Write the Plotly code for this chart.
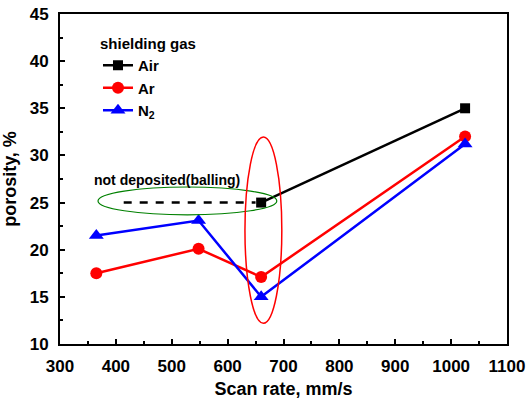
import plotly.graph_objects as go

scan_air = [660, 1025]
por_air = [25, 35]
scan_ar = [365, 548, 660, 1025]
por_ar = [17.5, 20.1, 17.1, 32]
scan_n2 = [365, 548, 660, 1025]
por_n2 = [21.5, 23.1, 15.0, 31.2]
balling_x = [414, 650]
balling_y = [25, 25]
x_ticks = list(range(300, 1101, 100))
y_ticks = list(range(10, 46, 5))

FONT = "Liberation Sans"

fig = go.Figure()
fig.add_trace(go.Scatter(x=balling_x, y=balling_y, mode="lines", showlegend=False,
                         line=dict(color="black", width=2.5, dash="8px,8px")))
fig.add_trace(go.Scatter(x=scan_air, y=por_air, mode="lines+markers", name="<b>Air</b>",
                         line=dict(color="black", width=2.5),
                         marker=dict(symbol="square", size=10, color="black")))
fig.add_trace(go.Scatter(x=scan_ar, y=por_ar, mode="lines+markers", name="<b>Ar</b>",
                         line=dict(color="#ff0000", width=2.5),
                         marker=dict(symbol="circle", size=12, color="#ff0000")))
fig.add_trace(go.Scatter(x=scan_n2, y=por_n2, mode="lines+markers", name="<b>N<sub>2</sub></b>",
                         line=dict(color="#0000ff", width=2.5),
                         marker=dict(symbol="triangle-up", size=13, color="#0000ff")))

fig.add_shape(type="circle", xref="x", yref="y", x0=368, x1=688, y0=23.7, y1=26.65,
              line=dict(color="#008000", width=1.2))
fig.add_shape(type="circle", xref="x", yref="y", x0=631, x1=697, y0=12.2, y1=31.95,
              line=dict(color="#ff0000", width=1.5))

fig.add_annotation(xref="paper", yref="paper", x=(167 - 60) / 447, y=(344 - 180) / 330,
                   xanchor="center", yanchor="middle",
                   text="<b>not deposited(balling)</b>", showarrow=False,
                   font=dict(family=FONT, size=14, color="black", weight="bold"))

fig.update_layout(
    width=528, height=407,
    margin=dict(l=60, r=21, t=14, b=63),
    paper_bgcolor="white", plot_bgcolor="white",
    font=dict(family=FONT, color="black", size=16),
    legend=dict(x=0.085, y=0.953, xanchor="left", yanchor="top",
                bgcolor="rgba(0,0,0,0)",
                title=dict(text="<b>shielding gas</b>", font=dict(size=15)),
                font=dict(size=15), tracegroupgap=0),
    xaxis=dict(range=[300, 1100], tickvals=x_ticks, ticktext=[f"<b>{v}</b>" for v in x_ticks],
               ticks="inside", ticklen=5, tickwidth=2, tickcolor="black",
               minor=dict(ticks="inside", ticklen=3, tickwidth=1.5, dtick=50, tickcolor="black"),
               showline=True, linewidth=2, linecolor="black", mirror=True, automargin=False,
               showgrid=False, zeroline=False, ticklabelstandoff=6,
               tickfont=dict(size=17, weight="bold"),
               title=dict(text="<b>Scan rate, mm/s</b>", font=dict(size=18), standoff=7)),
    yaxis=dict(range=[10, 45], tickvals=y_ticks, ticktext=[f"<b>{v}</b>" for v in y_ticks],
               ticks="inside", ticklen=5, tickwidth=2, tickcolor="black",
               minor=dict(ticks="inside", ticklen=3, tickwidth=1.5, dtick=2.5, tickcolor="black"),
               showline=True, linewidth=2, linecolor="black", mirror=True, automargin=False,
               showgrid=False, zeroline=False, ticklabelstandoff=6,
               tickfont=dict(size=17, weight="bold"),
               title=dict(text="<b>porosity, %</b>", font=dict(size=18), standoff=8)),
)
fig.write_html("out.html")
